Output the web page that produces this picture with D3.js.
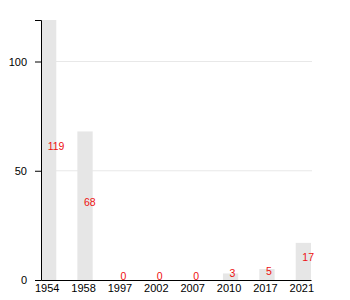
<!DOCTYPE html>
<html><head><meta charset="utf-8">
<script src="https://cdn.jsdelivr.net/npm/d3@7"></script>
<style>body{margin:0;background:#fff}svg{display:block;font-family:"Liberation Sans",Arial,sans-serif}</style>
</head><body><svg id="c" width="350" height="300"></svg>
<script>
const categories = ["1954","1958","1997","2002","2007","2010","2017","2021"];
const values = [119,68,0,0,0,3,5,17];
const yTicks = [0,50,100];

(function(){
const svg = d3.select("#c");
const mLeft = 41, mRight = 311, mTop = 20, mBottom = 280;
const x = d3.scaleBand().domain(categories).range([mLeft, mRight]).paddingInner(0.58).paddingOuter(0);
const y = d3.scaleLinear().domain([0, d3.max(values)]).range([mBottom, mTop]);

// gridlines
svg.append("g").selectAll("line").data(yTicks.filter(t => t > 0)).join("line")
  .attr("x1", mLeft).attr("x2", mRight + 1)
  .attr("y1", d => y(d)).attr("y2", d => y(d))
  .attr("stroke", "#e8e8e8").attr("stroke-width", 1);

// bars
svg.append("g").selectAll("rect").data(values).join("rect")
  .attr("x", (d, i) => x(categories[i]))
  .attr("width", x.bandwidth())
  .attr("y", d => y(d))
  .attr("height", d => mBottom - y(d))
  .attr("fill", "#e6e6e6");

// value labels
svg.append("g").selectAll("text").data(values).join("text")
  .attr("x", (d, i) => x(categories[i]) + x.bandwidth() / 2 - 1)
  .attr("y", d => y(d / 2))
  .attr("fill", "#ee1111")
  .attr("font-size", 10.5)
  .attr("text-anchor", "start")
  .text(d => d);

// y axis
const ya = svg.append("g").attr("transform", `translate(${mLeft},0)`)
  .call(d3.axisLeft(y).tickValues(yTicks).tickSizeOuter(0).tickSize(6).tickPadding(8));
ya.selectAll("text").attr("font-size", 11).attr("font-family", "Liberation Sans, Arial, sans-serif").attr("fill", "#000");
ya.select(".domain").attr("stroke", "#000");

// x axis
const xa = svg.append("g").attr("transform", `translate(0,${mBottom})`)
  .call(d3.axisBottom(x).tickSize(0).tickSizeOuter(0).tickPadding(4));
xa.selectAll("text").attr("font-size", 11).attr("font-family", "Liberation Sans, Arial, sans-serif").attr("fill", "#000").attr("dx", "-1.5");
xa.select(".domain").attr("stroke", "#000");
})();
</script></body></html>
